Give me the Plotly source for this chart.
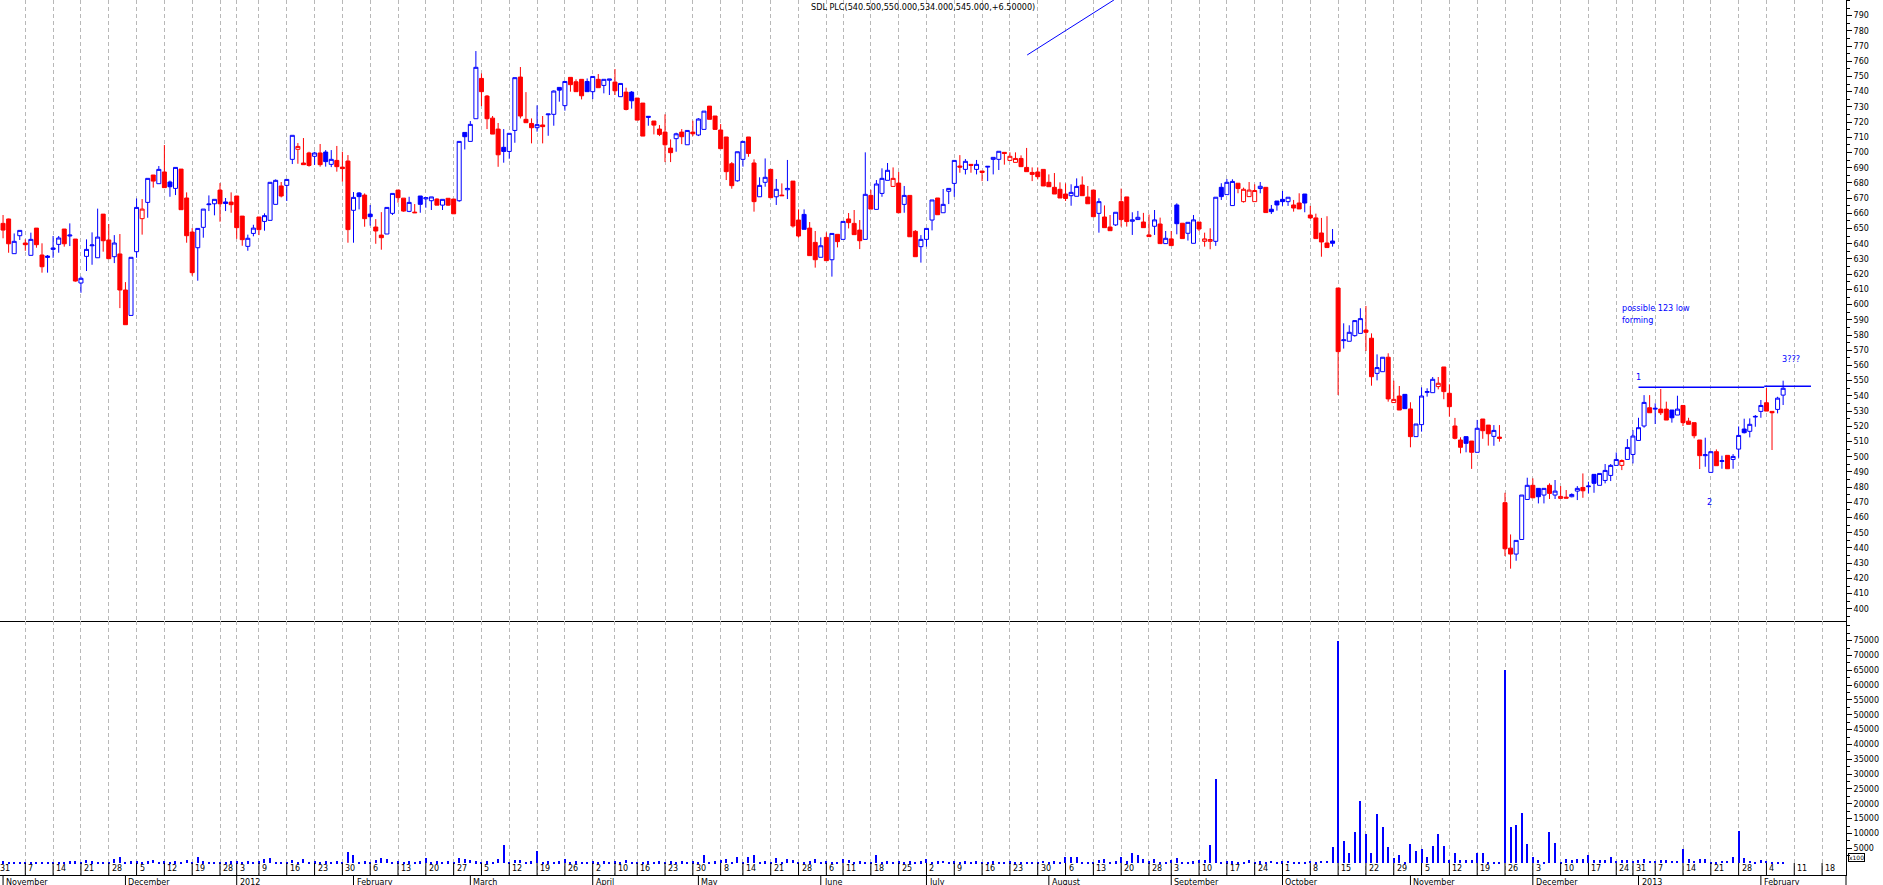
import pandas as pd
import plotly.graph_objects as go

BLUE = "#0000ff"
RED = "#ff0000"
GRID = "#b8b8b8"

# ---------------- trading calendar (UK trading days) ----------------
holidays = ["2011-12-26", "2011-12-27", "2012-01-02", "2012-04-06", "2012-04-09",
            "2012-05-07", "2012-06-04", "2012-06-05", "2012-08-27", "2012-12-25",
            "2012-12-26", "2013-01-01"]
cal = pd.bdate_range("2011-10-31", "2013-02-22")
cal = cal[~cal.isin(pd.to_datetime(holidays))]

# ---------------- data (one value per trading day from 31 Oct 2011) ----------------
open_ = [
    648.0, 653.4, 656.3, 633.5, 645.3, 640.5, 632.4, 650.3, 632.6, 631.9,
    636.3, 639.6, 649.7, 645.1, 643.1, 614.2, 631.7, 638.7, 630.8, 659.5,
    642.5, 631.5, 633.3, 609.6, 592.9, 634.8, 656.5, 667.2, 685.2, 679.5,
    687.2, 680.6, 676.4, 689.1, 670.1, 647.7, 637.4, 650.8, 665.7, 666.3,
    675.3, 667.5, 667.4, 671.4, 658.2, 638.3, 646.8, 657.6, 654.7, 655.4,
    665.9, 678.0, 678.4, 695.5, 702.1, 693.1, 699.7, 697.5, 699.7, 700.3,
    692.2, 694.8, 690.4, 694.4, 662.0, 673.4, 672.0, 659.5, 651.0, 645.7,
    646.4, 660.0, 675.3, 670.0, 661.3, 660.8, 671.4, 669.5, 668.3, 669.4,
    665.4, 669.9, 669.4, 668.3, 713.2, 707.3, 722.2, 748.7, 737.1, 722.6,
    715.4, 703.4, 700.7, 714.5, 749.6, 721.8, 719.1, 716.3, 718.1, 724.8,
    725.1, 742.8, 730.8, 749.4, 746.5, 748.1, 746.7, 740.0, 748.1, 744.1,
    747.5, 746.3, 736.7, 739.7, 739.7, 735.8, 732.5, 723.8, 720.7, 715.4,
    713.4, 702.9, 709.1, 713.4, 705.1, 713.4, 711.5, 715.2, 730.5, 724.0,
    714.8, 710.2, 692.6, 681.4, 695.5, 710.2, 693.1, 670.9, 680.4, 688.9,
    670.9, 672.0, 675.5, 681.2, 655.6, 659.3, 650.3, 640.9, 631.1, 644.2,
    629.5, 646.2, 642.9, 656.3, 653.4, 649.0, 642.9, 671.8, 662.6, 673.1,
    681.7, 677.7, 679.9, 665.9, 671.8, 648.2, 638.1, 642.9, 655.6, 670.1,
    660.4, 674.5, 679.7, 691.1, 688.9, 692.2, 688.9, 687.8, 690.4, 695.5,
    695.5, 700.1, 694.8, 693.5, 696.1, 690.2, 686.9, 687.2, 688.9, 680.4,
    677.1, 675.8, 672.7, 671.6, 671.2, 678.6, 670.7, 675.3, 660.0, 657.6,
    651.0, 652.4, 667.7, 670.8, 654.8, 655.9, 654.3, 645.8, 651.5, 653.0,
    640.1, 643.2, 665.5, 653.5, 646.9, 640.3, 654.3, 641.6, 641.6, 641.6,
    677.1, 672.3, 665.1, 679.8, 667.7, 671.0, 667.7, 676.3, 677.1, 662.7,
    668.1, 669.2, 667.7, 665.5, 666.8, 672.7, 658.9, 657.0, 647.1, 640.5,
    641.8, 610.9, 576.3, 575.9, 579.6, 581.1, 583.3, 577.9, 554.8, 555.9,
    565.4, 535.6, 539.9, 541.0, 531.4, 513.2, 521.1, 542.3, 542.1, 546.1,
    559.0, 541.7, 520.2, 511.0, 513.2, 510.3, 502.9, 524.8, 520.8, 513.4,
    512.9, 469.8, 439.9, 436.0, 445.6, 471.9, 481.2, 479.2, 474.8, 481.2,
    474.8, 472.6, 473.4, 473.7, 477.4, 479.8, 480.3, 488.4, 481.2, 484.4,
    487.7, 494.3, 494.3, 498.2, 501.5, 510.7, 520.2, 532.2, 531.3, 531.3,
    531.3, 530.7, 527.4, 533.7, 523.4, 522.4, 511.0, 500.7, 489.7, 503.3,
    496.9, 500.9, 498.2, 505.0, 518.2, 516.7, 526.1, 529.8, 535.5, 529.8,
    531.1, 540.5,
]
high = [
    656.0, 658.9, 656.5, 646.8, 648.8, 642.9, 647.3, 650.3, 640.3, 632.6,
    645.1, 645.1, 649.7, 653.4, 643.1, 618.4, 642.9, 647.5, 663.1, 659.5,
    653.0, 645.7, 646.4, 614.8, 631.1, 669.8, 669.4, 683.0, 685.2, 691.1,
    704.9, 681.5, 690.2, 689.1, 673.8, 650.3, 650.1, 662.8, 671.8, 669.2,
    679.9, 670.1, 673.8, 671.4, 658.2, 646.0, 652.5, 657.6, 660.0, 680.4,
    682.3, 680.6, 682.3, 711.3, 706.2, 709.5, 700.5, 700.5, 705.6, 701.6,
    701.6, 704.3, 700.5, 698.3, 674.0, 674.0, 673.1, 665.5, 656.2, 660.8,
    663.9, 673.1, 675.3, 670.0, 670.9, 666.1, 671.4, 670.3, 670.8, 669.9,
    669.2, 669.9, 669.4, 707.3, 713.2, 720.7, 766.7, 752.0, 737.8, 724.0,
    719.4, 715.4, 712.6, 749.2, 756.2, 739.7, 722.4, 731.0, 724.0, 725.3,
    740.8, 742.8, 746.7, 749.4, 748.1, 748.1, 748.7, 750.0, 751.6, 748.1,
    748.3, 754.9, 745.4, 742.6, 740.4, 735.8, 732.5, 723.8, 720.7, 718.0,
    725.1, 708.6, 713.0, 715.4, 714.5, 720.9, 722.6, 727.2, 730.5, 724.0,
    718.7, 710.2, 693.7, 700.5, 707.3, 710.2, 695.5, 683.7, 696.1, 688.9,
    682.6, 679.7, 695.1, 681.2, 662.6, 662.6, 654.3, 648.4, 644.2, 647.5,
    646.8, 646.2, 654.7, 660.2, 662.2, 655.6, 700.1, 675.5, 681.9, 689.6,
    693.1, 690.2, 687.2, 678.0, 671.8, 649.0, 645.7, 650.1, 668.8, 670.1,
    676.0, 676.4, 694.8, 698.3, 695.7, 692.2, 695.1, 687.8, 690.9, 696.8,
    700.8, 700.1, 700.1, 700.1, 698.1, 703.0, 690.2, 690.2, 688.9, 685.6,
    686.5, 680.4, 679.7, 679.1, 683.0, 684.3, 678.0, 675.3, 669.9, 665.2,
    658.9, 660.7, 676.3, 670.8, 660.7, 661.6, 660.3, 659.2, 662.2, 657.2,
    648.4, 648.4, 666.6, 653.5, 654.1, 658.9, 654.3, 647.3, 650.2, 670.6,
    679.8, 682.6, 682.4, 679.8, 676.9, 680.6, 679.1, 680.6, 677.1, 665.5,
    668.1, 674.7, 670.6, 668.8, 673.2, 672.7, 664.9, 659.8, 657.0, 658.1,
    649.7, 610.9, 587.7, 586.4, 589.5, 597.6, 599.1, 581.1, 567.3, 565.4,
    568.0, 550.0, 546.5, 541.0, 535.8, 521.5, 545.6, 545.0, 552.4, 552.4,
    559.0, 547.6, 525.5, 512.8, 513.2, 510.3, 524.2, 524.8, 520.8, 520.8,
    520.8, 476.3, 448.9, 445.0, 474.8, 486.2, 485.8, 479.2, 479.2, 482.5,
    484.7, 480.7, 478.1, 475.9, 480.7, 489.0, 483.6, 488.4, 489.0, 495.2,
    495.2, 502.8, 498.2, 511.6, 517.5, 525.6, 540.5, 540.5, 535.1, 544.5,
    536.2, 530.7, 540.1, 533.7, 525.6, 522.4, 511.0, 512.5, 503.3, 504.8,
    500.7, 500.9, 501.7, 519.9, 525.0, 525.2, 527.4, 537.3, 545.1, 529.8,
    539.4, 550.0,
]
low = [
    646.0, 643.6, 634.1, 633.5, 642.5, 635.4, 632.4, 637.4, 621.0, 621.0,
    630.8, 634.1, 638.1, 638.5, 615.1, 607.8, 622.1, 626.2, 630.8, 634.8,
    630.2, 627.3, 597.7, 586.8, 592.9, 630.8, 646.0, 657.1, 676.9, 679.5,
    676.9, 670.9, 672.0, 662.4, 640.7, 619.0, 615.7, 644.0, 661.5, 658.7,
    654.5, 661.5, 660.4, 643.3, 638.7, 635.4, 644.9, 645.7, 648.6, 655.4,
    665.9, 670.5, 668.1, 692.4, 692.6, 692.0, 690.7, 691.8, 690.7, 690.7,
    690.4, 687.4, 680.8, 640.7, 640.7, 662.6, 651.2, 651.9, 640.0, 636.1,
    646.4, 658.9, 667.0, 661.1, 660.8, 660.4, 660.4, 663.7, 662.2, 665.4,
    662.2, 665.0, 659.7, 667.6, 702.0, 707.3, 722.2, 730.5, 715.4, 712.1,
    690.6, 693.3, 695.9, 706.4, 722.4, 719.6, 706.0, 713.7, 706.0, 711.0,
    717.6, 733.4, 727.5, 740.0, 740.0, 734.9, 740.0, 735.1, 742.6, 738.9,
    737.8, 737.8, 736.7, 727.7, 728.8, 721.3, 710.8, 717.6, 711.9, 710.8,
    693.7, 693.7, 700.5, 705.5, 705.1, 710.8, 710.8, 715.2, 721.8, 715.2,
    702.5, 681.9, 676.2, 680.8, 690.7, 697.2, 661.1, 670.9, 677.5, 670.3,
    665.5, 671.6, 669.4, 650.6, 644.0, 649.5, 632.2, 624.3, 631.1, 628.9,
    618.4, 637.6, 642.9, 650.1, 646.0, 636.5, 642.9, 662.8, 662.6, 670.9,
    681.7, 677.7, 660.4, 660.4, 644.6, 631.5, 627.6, 638.1, 648.8, 659.1,
    660.4, 666.1, 670.9, 686.7, 685.6, 686.7, 685.6, 681.2, 681.2, 685.6,
    688.5, 692.0, 694.8, 693.5, 690.7, 687.4, 681.2, 682.3, 678.0, 677.5,
    672.7, 670.1, 668.1, 665.0, 671.2, 671.6, 666.3, 657.8, 647.3, 650.6,
    648.6, 651.7, 651.3, 651.3, 645.8, 655.9, 650.6, 644.7, 645.8, 640.1,
    640.1, 638.8, 646.2, 643.4, 642.1, 640.3, 648.4, 638.1, 636.4, 638.6,
    668.8, 672.3, 665.1, 673.2, 667.1, 671.0, 667.7, 673.2, 660.5, 659.6,
    661.8, 664.9, 664.9, 661.1, 662.9, 660.7, 656.3, 643.4, 631.5, 637.5,
    638.1, 540.6, 571.1, 575.9, 578.9, 581.1, 569.5, 546.7, 550.2, 555.9,
    536.2, 535.6, 530.7, 531.6, 506.2, 513.2, 516.5, 539.5, 542.1, 544.3,
    537.8, 526.4, 511.4, 502.2, 502.9, 492.0, 502.9, 511.8, 507.3, 507.2,
    509.9, 434.7, 426.4, 431.6, 445.6, 471.9, 473.0, 469.3, 469.3, 472.2,
    472.2, 472.2, 472.8, 473.3, 471.5, 473.0, 475.9, 476.3, 481.2, 482.5,
    484.0, 494.3, 491.2, 498.2, 495.6, 510.7, 519.1, 528.9, 521.5, 527.4,
    524.1, 522.4, 527.4, 520.2, 521.3, 512.1, 491.9, 493.4, 489.7, 494.1,
    492.1, 492.1, 492.1, 499.3, 515.3, 512.7, 519.7, 525.6, 530.0, 504.4,
    528.5, 534.0,
]
close = [
    654.0, 649.0, 640.0, 641.6, 648.8, 639.4, 642.9, 639.4, 624.9, 631.1,
    637.2, 643.8, 640.0, 645.7, 615.5, 617.3, 636.3, 639.2, 644.4, 642.0,
    630.2, 640.5, 609.6, 586.8, 631.1, 663.9, 662.8, 683.0, 681.2, 688.9,
    676.9, 677.5, 690.2, 662.4, 645.3, 621.0, 650.1, 662.8, 666.1, 669.2,
    666.3, 666.5, 665.7, 650.6, 642.7, 643.6, 650.3, 649.3, 658.5, 680.4,
    681.7, 671.4, 682.3, 711.3, 704.0, 692.0, 691.5, 699.7, 692.0, 694.0,
    695.5, 690.7, 689.4, 649.3, 670.5, 671.0, 656.5, 657.8, 648.4, 644.0,
    663.9, 673.1, 670.3, 661.5, 667.2, 660.4, 665.9, 670.3, 670.8, 665.4,
    669.2, 665.4, 659.7, 707.3, 710.4, 718.5, 756.0, 740.0, 722.2, 712.1,
    698.5, 700.7, 712.6, 749.2, 724.0, 719.6, 716.3, 718.3, 717.0, 725.3,
    740.4, 741.0, 746.7, 744.6, 740.0, 737.3, 740.0, 750.0, 742.6, 748.1,
    748.3, 740.6, 745.4, 728.3, 734.0, 721.3, 710.8, 723.2, 718.0, 711.9,
    705.1, 699.9, 712.3, 710.4, 714.5, 712.3, 722.0, 727.2, 721.8, 715.2,
    702.5, 687.4, 678.2, 700.5, 707.3, 699.4, 667.7, 678.4, 683.7, 670.3,
    675.8, 671.6, 676.4, 651.7, 645.1, 649.5, 632.2, 629.5, 638.7, 628.9,
    646.8, 641.4, 654.7, 653.9, 646.0, 642.0, 672.5, 662.8, 679.3, 683.0,
    688.3, 683.0, 660.4, 671.8, 644.6, 631.5, 642.9, 650.1, 668.8, 659.1,
    665.9, 676.4, 694.8, 690.4, 694.2, 691.5, 692.2, 686.9, 690.9, 696.8,
    700.8, 699.4, 697.5, 696.1, 690.7, 687.4, 685.6, 684.1, 678.0, 677.5,
    672.7, 670.1, 669.8, 673.8, 677.7, 671.6, 666.3, 657.8, 667.7, 650.6,
    648.6, 660.7, 655.9, 654.6, 655.7, 657.4, 650.6, 644.7, 655.7, 640.1,
    643.6, 638.8, 653.2, 643.4, 654.1, 655.7, 649.7, 643.2, 642.8, 670.6,
    671.0, 680.4, 681.0, 676.3, 675.8, 675.3, 675.0, 677.8, 660.5, 661.1,
    665.5, 667.7, 670.6, 663.5, 662.9, 666.8, 657.0, 643.4, 641.2, 637.5,
    640.3, 569.1, 576.8, 581.8, 589.5, 590.8, 581.8, 552.6, 558.6, 565.4,
    538.0, 537.7, 530.7, 531.6, 513.2, 521.5, 539.9, 542.8, 550.9, 548.3,
    542.8, 532.9, 512.1, 506.2, 508.8, 502.9, 518.7, 517.1, 515.1, 517.3,
    512.1, 439.5, 436.0, 445.0, 474.8, 481.2, 473.0, 473.7, 479.2, 475.9,
    477.4, 473.9, 472.8, 475.2, 479.2, 477.6, 480.7, 482.5, 489.0, 491.0,
    494.3, 498.2, 497.5, 506.1, 513.6, 519.1, 535.7, 528.9, 531.8, 528.9,
    524.1, 525.6, 531.3, 522.4, 521.3, 513.8, 500.7, 501.3, 503.3, 494.1,
    497.4, 492.1, 500.2, 514.0, 515.8, 521.3, 526.5, 533.7, 530.0, 528.9,
    538.5, 545.0,
]
volume = [
    500, 600, 500, 300, 500, 300, 500, 300, 500, 300,
    500, 300, 300, 600, 600, 300, 1100, 600, 300, 300,
    300, 1500, 2000, 300, 600, 600, 300, 600, 1100, 300,
    600, 300, 600, 300, 1100, 300, 2000, 600, 300, 300,
    300, 300, 600, 600, 300, 600, 300, 600, 1300, 1800,
    300, 300, 300, 1100, 300, 1300, 300, 600, 300, 600,
    300, 600, 300, 3700, 2900, 300, 600, 300, 1100, 1800,
    1300, 300, 600, 300, 600, 300, 600, 1700, 300, 600,
    300, 600, 300, 1800, 1500, 1100, 600, 300, 600, 300,
    1300, 6000, 300, 1100, 1100, 300, 600, 4000, 300, 600,
    300, 600, 1300, 300, 600, 300, 300, 600, 300, 600,
    300, 600, 300, 1200, 300, 300, 300, 600, 300, 600,
    300, 600, 300, 600, 300, 600, 300, 2900, 300, 600,
    1100, 1500, 300, 2000, 300, 2000, 2600, 300, 600, 300,
    1700, 300, 1500, 1100, 300, 300, 600, 1500, 300, 600,
    300, 300, 1500, 1100, 300, 600, 300, 300, 2600, 300,
    600, 300, 600, 300, 600, 300, 600, 1500, 300, 600,
    700, 300, 600, 300, 600, 300, 600, 300, 300, 600,
    300, 300, 600, 300, 300, 300, 300, 300, 700, 300,
    600, 300, 2000, 2000, 2000, 300, 300, 300, 900, 1500,
    300, 600, 2000, 600, 3400, 2900, 1500, 600, 1500, 300,
    300, 900, 1700, 300, 300, 600, 1100, 900, 6000, 28200,
    300, 600, 600, 300, 300, 900, 300, 600, 300, 700,
    300, 600, 700, 300, 300, 300, 700, 300, 700, 700,
    5400, 74900, 7600, 3400, 10400, 21100, 9700, 3400, 16400, 12100,
    5400, 1700, 2600, 300, 6300, 4000, 4600, 2000, 5600, 9700,
    5600, 900, 3400, 1100, 900, 900, 3400, 3400, 300, 300,
    300, 65200, 12100, 12700, 16900, 6300, 2000, 900, 300, 10400,
    6700, 300, 1300, 900, 1500, 1500, 2600, 1100, 900, 900,
    2000, 700, 900, 1100, 700, 900, 1500, 700, 700, 900,
    900, 700, 700, 4800, 1500, 700, 1500, 1500, 300, 300,
    700, 700, 2000, 10800, 1800, 700, 300, 1100, 700, 300,
    300, 300,
]

price_ticks = list(range(400, 800, 10))
volume_ticks = list(range(5000, 80000, 5000))

# drawn annotations (trading-day index, price)
trend_line = [(185.1, 764.1), (200.7, 800.3)]
level_lines = [((295.0, 317.6), 545.6), ((317.6, 326.0), 546.4)]
notes = [("possible 123 low", 291.7, 597.6, "left"), ("forming", 291.7, 589.7, "left"),
         ("1", 295.0, 552.6, "center"), ("2", 307.8, 470.0, "center"),
         ("3???", 320.5, 564.2, "left")]
title_text = "SDL PLC(540.500,550.000,534.000,545.000,+6.50000)"

# ---------------- layout constants ----------------
W, H = 1883, 885
ML, MR, MT, MB = 0, 37, 0, 10
PLOT_H = H - MT - MB          # 875
SEP_PX = 621                  # price / volume separator
XMIN, XMAX = 0.45, 332.3
PMIN, PMAX = 392.0, 800.26
VMIN, VMAX = -4012, 81625
split = 1 - SEP_PX / PLOT_H
FONT_AX = "DejaVu Sans"
FONT_TX = "DejaVu Sans Condensed, DejaVu Sans"


def xpaper(i):
    return (i - XMIN) / (XMAX - XMIN)


def ypaper(px):
    return (PLOT_H - px) / PLOT_H


n = len(close)
idx = list(range(n))
blue_i = [i for i in idx if i == 0 or close[i] > close[i - 1]]
red_i = [i for i in idx if not (i == 0 or close[i] > close[i - 1])]


def sub(arr, sel):
    return [arr[i] for i in sel]


fig = go.Figure()
for sel, col in ((blue_i, BLUE), (red_i, RED)):
    fig.add_trace(go.Candlestick(
        x=sel, open=sub(open_, sel), high=sub(high, sel), low=sub(low, sel), close=sub(close, sel),
        increasing=dict(line=dict(color=col, width=1), fillcolor="white"),
        decreasing=dict(line=dict(color=col, width=1), fillcolor=col),
        whiskerwidth=0, hoverinfo="skip", xaxis="x", yaxis="y", showlegend=False))

fig.add_trace(go.Bar(x=idx, y=volume, width=0.2, marker=dict(color=BLUE, line=dict(width=0)),
                     xaxis="x2", yaxis="y2", hoverinfo="skip", showlegend=False))

# weekly & monthly ticks from the calendar
week_key = (cal - pd.to_timedelta(cal.weekday, unit="D"))
week_idx = [i for i in range(len(cal)) if i == 0 or week_key[i] != week_key[i - 1]]
week_idx = [i for i in week_idx if i <= XMAX]
month_idx = [i for i in range(1, len(cal)) if cal[i].month != cal[i - 1].month and i <= XMAX]

xcommon = dict(range=[XMIN, XMAX], showticklabels=False, ticks="", tickmode="array",
               tickvals=week_idx, showgrid=True, gridcolor=GRID, griddash="4px,3px",
               gridwidth=1, zeroline=False, showline=True, linecolor="black", linewidth=1,
               rangeslider=dict(visible=False), fixedrange=True)

fig.update_layout(
    width=W, height=H, margin=dict(l=ML, r=MR, t=MT, b=MB),
    paper_bgcolor="white", plot_bgcolor="white", showlegend=False,
    boxgap=0.1, boxgroupgap=0.2, bargap=0,
    xaxis=dict(anchor="y", domain=[0, 1], **xcommon),
    xaxis2=dict(anchor="y2", domain=[0, 1], matches="x", **xcommon),
    yaxis=dict(domain=[split, 1], range=[PMIN, PMAX], side="right", anchor="x",
               showgrid=False, zeroline=False, showline=True, linecolor="black", linewidth=1,
               tickmode="array", tickvals=price_ticks, ticktext=[str(v) for v in price_ticks],
               ticks="outside", ticklen=5,
               tickcolor="black", tickfont=dict(family=FONT_AX, size=8, color="black"),
               minor=dict(tickmode="array", tickvals=list(range(395, 801, 5)), ticks="outside",
                          ticklen=3, tickcolor="black", showgrid=False)),
    yaxis2=dict(domain=[0, split], range=[VMIN, VMAX], side="right", anchor="x2",
                showgrid=False, zeroline=False, showline=True, linecolor="black", linewidth=1,
                tickmode="array", tickvals=volume_ticks, ticktext=[str(v) for v in volume_ticks],
                ticks="outside", ticklen=5,
                tickcolor="black", tickfont=dict(family=FONT_AX, size=8, color="black"),
                minor=dict(tickmode="array", tickvals=list(range(2500, 81000, 2500)),
                           ticks="outside", ticklen=3, tickcolor="black", showgrid=False)),
)

shapes = []
annotations = []

# week ticks + day labels (inside the bottom strip of the volume panel)
for i in week_idx:
    xp = xpaper(i)
    shapes.append(dict(type="line", xref="paper", yref="paper", x0=xp, x1=xp,
                       y0=ypaper(863), y1=ypaper(875), line=dict(color="black", width=1)))
    annotations.append(dict(text=str(cal[i].day), xref="paper", yref="paper", x=xp,
                            y=ypaper(868.5), xanchor="left", yanchor="middle", xshift=1,
                            showarrow=False, font=dict(family=FONT_AX, size=8, color="black")))
# month ticks + labels (below the axis)
for i in month_idx:
    xp = xpaper(i)
    label = str(cal[i].year) if cal[i].month == 1 else cal[i].strftime("%B")
    shapes.append(dict(type="line", xref="paper", yref="paper", x0=xp, x1=xp,
                       y0=ypaper(875), y1=ypaper(886), line=dict(color="black", width=1)))
    annotations.append(dict(text=label, xref="paper", yref="paper", x=xp, y=ypaper(875.5),
                            xanchor="left", yanchor="top", xshift=1, showarrow=False,
                            font=dict(family=FONT_AX, size=8, color="black")))

# right axis continues to the bottom edge
shapes.append(dict(type="line", xref="paper", yref="paper", x0=1, x1=1, y0=0, y1=ypaper(886),
                   line=dict(color="black", width=1)))

# drawn lines
(tx0, ty0), (tx1, ty1) = trend_line
shapes.append(dict(type="line", xref="x", yref="y", x0=tx0, y0=ty0, x1=tx1, y1=ty1,
                   line=dict(color=BLUE, width=1)))
for (lx0, lx1), lv in level_lines:
    shapes.append(dict(type="line", xref="x", yref="y", x0=lx0, x1=lx1, y0=lv, y1=lv,
                       line=dict(color=BLUE, width=1.5)))

for txt, nx, ny, anc in notes:
    annotations.append(dict(text=txt, xref="x", yref="y", x=nx, y=ny, xanchor=anc,
                            yanchor="middle", showarrow=False,
                            font=dict(family=FONT_TX, size=9, color=BLUE)))

annotations.append(dict(text=title_text, xref="paper", yref="paper", x=0.5, y=ypaper(7),
                        xanchor="center", yanchor="middle", showarrow=False,
                        font=dict(family=FONT_TX, size=9, color="black")))
annotations.append(dict(text="x100", xref="paper", yref="paper", x=1, y=ypaper(857),
                        xanchor="left", yanchor="middle", xshift=2, showarrow=False,
                        bordercolor="black", borderwidth=1, borderpad=0,
                        font=dict(family=FONT_AX, size=6, color="black")))

fig.update_layout(shapes=shapes, annotations=annotations)
fig.write_html("out.html", config={"displayModeBar": False},
               post_script="document.body.style.margin='0';document.body.style.overflow='hidden';")
